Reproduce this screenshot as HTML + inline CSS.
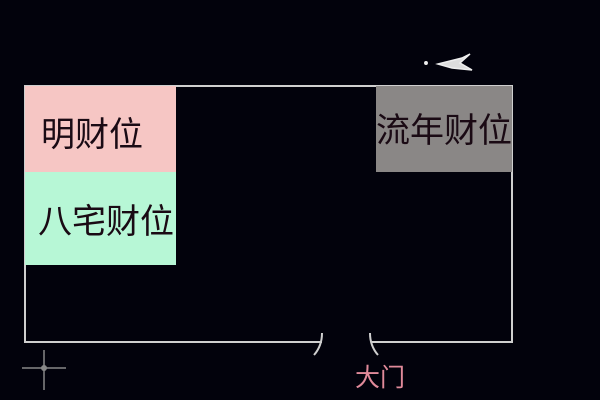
<!DOCTYPE html>
<html><head><meta charset="utf-8"><style>
html,body{margin:0;padding:0;background:#02020c;}
body{width:600px;height:400px;position:relative;overflow:hidden;font-family:"Liberation Sans","Noto Sans CJK SC",sans-serif;}
.b{position:absolute;display:flex;align-items:center;justify-content:center;font-size:34px;color:#1a0a14;white-space:nowrap;}
</style></head><body>
<svg width="600" height="400" style="position:absolute;left:0;top:0">
<g stroke="#cfcfcf" stroke-width="2" fill="none">
<polyline points="322,342 25,342 25,86 512,86 512,342 372,342"/>
<path d="M322,333 Q322,346 314,355"/>
<path d="M370,333 Q370,346 378,355"/>
</g>
<g stroke="#888" stroke-width="1.5">
<line x1="44" y1="350" x2="44" y2="390"/>
<line x1="22" y1="368" x2="66" y2="368"/>
</g>
<circle cx="44" cy="368" r="3" fill="#888"/>
<g stroke="#eee" stroke-width="1.5" fill="#eee">
<path d="M438,64 L462,58 L470,54 L460,63 L472,70 L452,68 Z" fill="#ddd"/>
<circle cx="426" cy="63" r="1.2"/>
</g>
</svg>
<div class="b" style="left:25px;top:86px;width:151px;height:86px;background:#f6c6c4;justify-content:flex-start;padding-left:16px;box-sizing:border-box;padding-top:4px;">明财位</div>
<div class="b" style="left:25px;top:172px;width:151px;height:93px;background:#b7f7d6;justify-content:flex-end;padding-right:2px;box-sizing:border-box;">八宅财位</div>
<div class="b" style="left:376px;top:86px;width:136px;height:86px;background:#8a8786;padding-bottom:4px;box-sizing:border-box;">流年财位</div>
<div style="position:absolute;left:355px;top:358px;font-size:25px;color:#e08a9a;">大门</div>
</body></html>
